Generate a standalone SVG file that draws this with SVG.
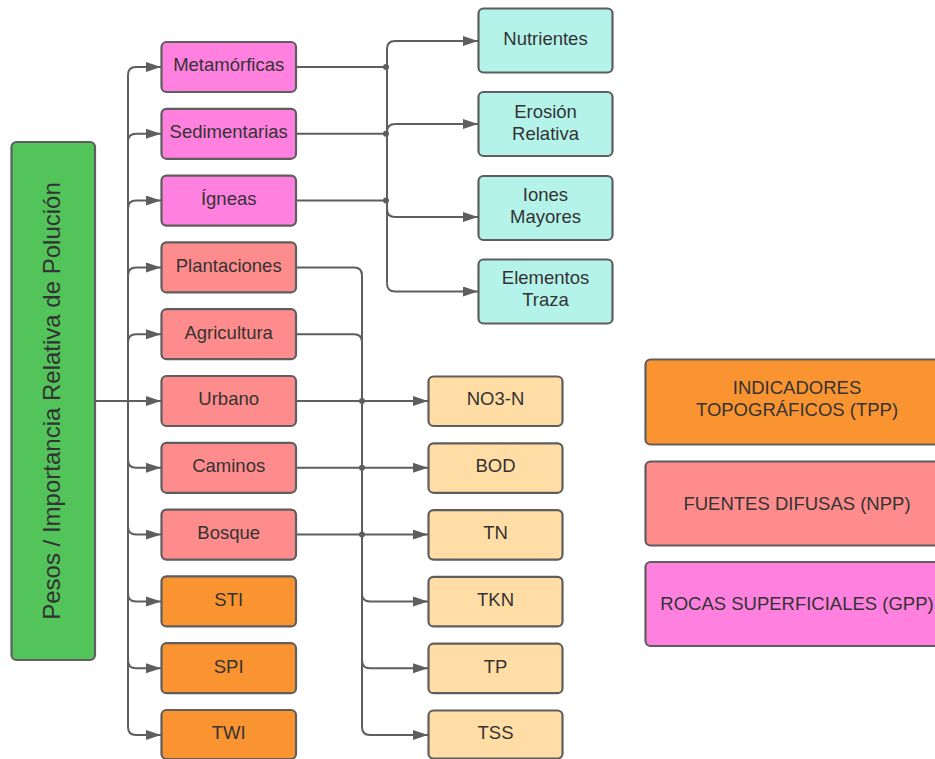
<svg xmlns="http://www.w3.org/2000/svg" width="935" height="759" viewBox="0 0 935 759">
<defs>
<marker id="ah" markerUnits="userSpaceOnUse" markerWidth="16" markerHeight="11" refX="15" refY="5" orient="auto">
<path d="M0,0 L15,5 L0,10 z" fill="#5E5E5E"/>
</marker>
<style>
.n rect{stroke:#5E5E5E;stroke-width:2.2}
.n text{font-family:"Liberation Sans",Arial,sans-serif;font-size:18.5px;fill:#333333;text-anchor:middle}
.rock rect{fill:#FF80DF}
.npp rect{fill:#FF8C8C}
.tpp rect{fill:#FA9431}
.out rect{fill:#FFDDA5}
.res rect{fill:#B4F3EA}
.c path{fill:none;stroke:#5E5E5E;stroke-width:2}
.c path.a{marker-end:url(#ah)}
.c circle{fill:#5E5E5E}
</style>
</defs>
<rect width="935" height="759" fill="#FFFFFF"/>
<g id="connectors" class="c">
<path class="a" d="M95,401 H128 V75 Q128,67 136,67 H161"/>
<path class="a" d="M95,401 H128 V141.8 Q128,133.8 136,133.8 H161"/>
<path class="a" d="M95,401 H128 V208.6 Q128,200.6 136,200.6 H161"/>
<path class="a" d="M95,401 H128 V275.4 Q128,267.4 136,267.4 H161"/>
<path class="a" d="M95,401 H128 V342.2 Q128,334.2 136,334.2 H161"/>
<path class="a" d="M95,401 H161"/>
<path class="a" d="M95,401 H128 V459.8 Q128,467.8 136,467.8 H161"/>
<path class="a" d="M95,401 H128 V526.6 Q128,534.6 136,534.6 H161"/>
<path class="a" d="M95,401 H128 V593.4 Q128,601.4 136,601.4 H161"/>
<path class="a" d="M95,401 H128 V660.2 Q128,668.2 136,668.2 H161"/>
<path class="a" d="M95,401 H128 V727 Q128,735 136,735 H161"/>
<path d="M296,67 H387"/>
<path d="M296,133.8 H387"/>
<path d="M296,200.6 H387"/>
<path d="M387,49 V283.5"/>
<path class="a" d="M387,49 Q387,41 395,41 H478"/>
<path class="a" d="M387,132 Q387,124 395,124 H478"/>
<path class="a" d="M387,209 Q387,217 395,217 H478"/>
<path class="a" d="M387,283.5 Q387,291.5 395,291.5 H478"/>
<circle cx="386" cy="67" r="3"/>
<circle cx="386" cy="133.8" r="3"/>
<circle cx="386" cy="200.6" r="3"/>
<path class="a" d="M296,267.4 H354 Q362,267.4 362,275.4 V727 Q362,735 370,735 H428"/>
<path d="M296,334.2 H354 Q362,334.2 362,342.2"/>
<path class="a" d="M296,401 H428"/>
<path class="a" d="M296,467.8 H428"/>
<path class="a" d="M296,534.6 H428"/>
<path class="a" d="M362,593.4 Q362,601.4 370,601.4 H428"/>
<path class="a" d="M362,660.2 Q362,668.2 370,668.2 H428"/>
<circle cx="362" cy="401" r="3"/>
<circle cx="362" cy="467.8" r="3"/>
<circle cx="362" cy="534.6" r="3"/>
</g>
<g id="root" class="n"><rect x="11.5" y="142" width="83.5" height="518" rx="5" fill="#52C45A"/><text transform="translate(60,401) rotate(-90)" style="font-size:24px">Pesos / Importancia Relativa de Polución</text></g>
<g id="metamorficas" class="n rock"><rect x="161.5" y="42" width="134.5" height="50" rx="5"/><text x="228.7" y="71.3">Metamórficas</text></g>
<g id="sedimentarias" class="n rock"><rect x="161.5" y="108.8" width="134.5" height="50" rx="5"/><text x="228.7" y="138.1">Sedimentarias</text></g>
<g id="igneas" class="n rock"><rect x="161.5" y="175.6" width="134.5" height="50" rx="5"/><text x="228.7" y="204.9">Ígneas</text></g>
<g id="plantaciones" class="n npp"><rect x="161.5" y="242.4" width="134.5" height="50" rx="5"/><text x="228.7" y="271.7">Plantaciones</text></g>
<g id="agricultura" class="n npp"><rect x="161.5" y="309.2" width="134.5" height="50" rx="5"/><text x="228.7" y="338.5">Agricultura</text></g>
<g id="urbano" class="n npp"><rect x="161.5" y="376" width="134.5" height="50" rx="5"/><text x="228.7" y="405.3">Urbano</text></g>
<g id="caminos" class="n npp"><rect x="161.5" y="442.8" width="134.5" height="50" rx="5"/><text x="228.7" y="472.1">Caminos</text></g>
<g id="bosque" class="n npp"><rect x="161.5" y="509.6" width="134.5" height="50" rx="5"/><text x="228.7" y="538.9">Bosque</text></g>
<g id="sti" class="n tpp"><rect x="161.5" y="576.4" width="134.5" height="50" rx="5"/><text x="228.7" y="605.7">STI</text></g>
<g id="spi" class="n tpp"><rect x="161.5" y="643.2" width="134.5" height="50" rx="5"/><text x="228.7" y="672.5">SPI</text></g>
<g id="twi" class="n tpp"><rect x="161.5" y="710" width="134.5" height="49" rx="5"/><text x="228.7" y="739.3">TWI</text></g>
<g id="nutrientes" class="n res"><rect x="478.5" y="8.5" width="134" height="64" rx="5"/><text x="545.5" y="45">Nutrientes</text></g>
<g id="erosion" class="n res"><rect x="478.5" y="92" width="134" height="64" rx="5"/><text x="545.5" y="117.5">Erosión</text><text x="545.5" y="139.5">Relativa</text></g>
<g id="iones" class="n res"><rect x="478.5" y="176" width="134" height="64" rx="5"/><text x="545.5" y="200.5">Iones</text><text x="545.5" y="222.5">Mayores</text></g>
<g id="elementos" class="n res"><rect x="478.5" y="259.5" width="134" height="64" rx="5"/><text x="545.5" y="284">Elementos</text><text x="545.5" y="306">Traza</text></g>
<g id="no3n" class="n out"><rect x="428.5" y="376.5" width="134" height="49.5" rx="5"/><text x="495.5" y="405.3">NO3-N</text></g>
<g id="bod" class="n out"><rect x="428.5" y="443.3" width="134" height="49.5" rx="5"/><text x="495.5" y="472.1">BOD</text></g>
<g id="tn" class="n out"><rect x="428.5" y="510.1" width="134" height="49.5" rx="5"/><text x="495.5" y="538.9">TN</text></g>
<g id="tkn" class="n out"><rect x="428.5" y="576.9" width="134" height="49.5" rx="5"/><text x="495.5" y="605.7">TKN</text></g>
<g id="tp" class="n out"><rect x="428.5" y="643.7" width="134" height="49.5" rx="5"/><text x="495.5" y="672.5">TP</text></g>
<g id="tss" class="n out"><rect x="428.5" y="710.5" width="134" height="48" rx="5"/><text x="495.5" y="739.3">TSS</text></g>
<g id="legend-tpp" class="n tpp"><rect x="645.5" y="359.5" width="303" height="85" rx="5"/><text x="797" y="394">INDICADORES</text><text x="797" y="416">TOPOGRÁFICOS (TPP)</text></g>
<g id="legend-npp" class="n npp"><rect x="645.5" y="461.5" width="303" height="84" rx="5"/><text x="797" y="509.5">FUENTES DIFUSAS (NPP)</text></g>
<g id="legend-gpp" class="n rock"><rect x="645.5" y="562" width="303" height="84" rx="5"/><text x="797" y="610">ROCAS SUPERFICIALES (GPP)</text></g>
</svg>
